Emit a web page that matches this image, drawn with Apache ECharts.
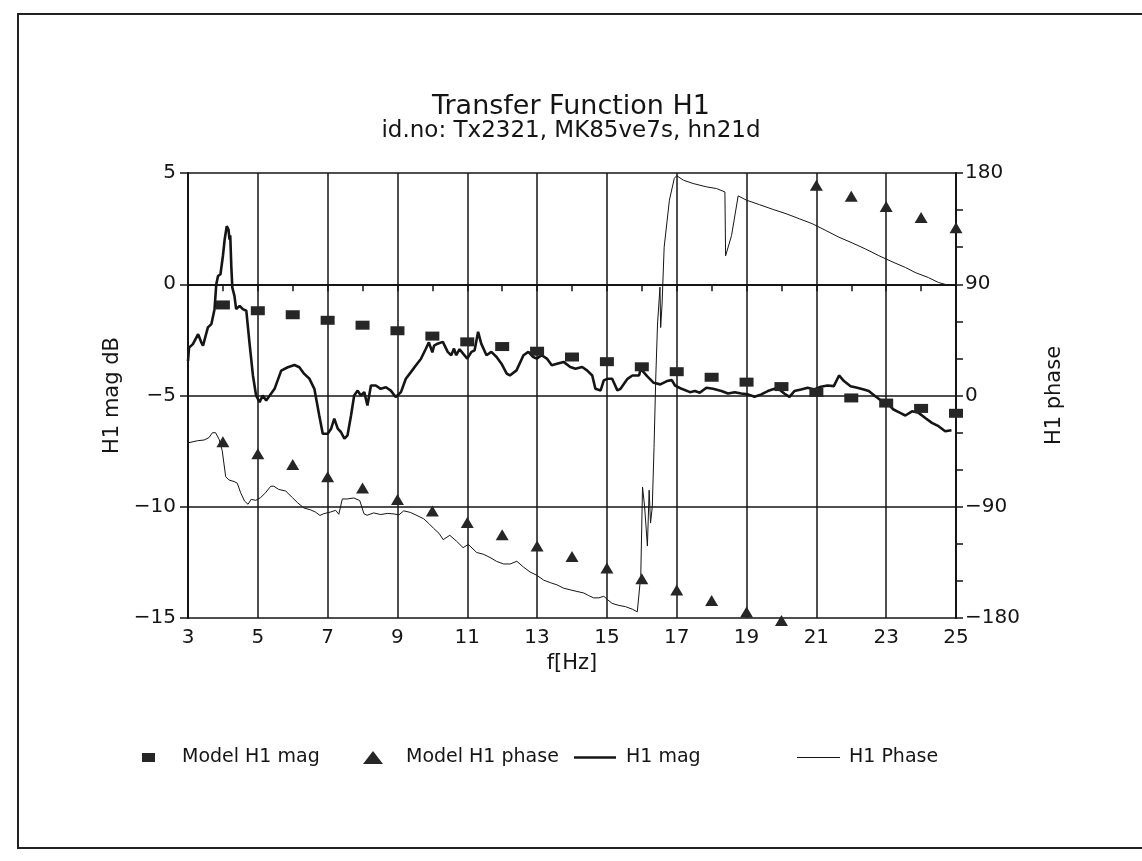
<!DOCTYPE html>
<html>
<head>
<meta charset="utf-8">
<title>Transfer Function H1</title>
<script src="https://cdn.jsdelivr.net/npm/echarts@6/dist/echarts.min.js"></script>
<style>
  html, body { margin: 0; padding: 0; background: #fff; }
  #chart { width: 1142px; height: 861px; }
</style>
</head>
<body>
<div id="chart"></div>
<script>
// model points (one per Hz)
const modelFreq = [4, 5, 6, 7, 8, 9, 10, 11, 12, 13, 14, 15, 16, 17, 18, 19, 20, 21, 22, 23, 24, 25]
const modelMag = [-0.93, -1.19, -1.37, -1.62, -1.84, -2.09, -2.33, -2.59, -2.80, -3.01, -3.27,
  -3.48, -3.71, -3.93, -4.18, -4.40, -4.60, -4.86, -5.11, -5.34, -5.58, -5.80]
const modelPhase = [-37.4, -47.2, -55.9, -65.7, -74.9, -84.1, -93.4, -102.7, -112.7, -121.7, -130.3,
  -139.6, -148.3, -157.3, -165.9, -175.1, -182, 170, 161.1, 152.8, 144.1, 135.7]

// measured H1 magnitude (dB)
const magFreq = [3.00, 3.03, 3.14, 3.29, 3.38, 3.43, 3.57, 3.67, 3.76, 3.81, 3.86, 3.93, 4.00, 4.05, 4.11,
  4.16, 4.19, 4.21, 4.24, 4.27, 4.33, 4.38, 4.48, 4.57, 4.67, 4.76, 4.86, 4.95, 5.05, 5.14, 5.24, 5.29,
  5.48, 5.67, 5.86, 6.05, 6.19, 6.33, 6.48, 6.62, 6.76, 6.86, 7.00, 7.10, 7.19, 7.29, 7.38, 7.48, 7.57,
  7.67, 7.76, 7.86, 7.95, 8.05, 8.14, 8.24, 8.38, 8.52, 8.67, 8.81, 8.95, 9.10, 9.24, 9.38, 9.52, 9.67,
  9.81, 9.90, 10.00, 10.05, 10.15, 10.30, 10.44, 10.54, 10.62, 10.68, 10.78, 10.88, 11.00, 11.12, 11.21,
  11.31, 11.40, 11.55, 11.69, 11.84, 11.98, 12.13, 12.22, 12.41, 12.61, 12.75, 12.89, 12.99, 13.13,
  13.28, 13.42, 13.57, 13.76, 13.95, 14.10, 14.29, 14.43, 14.58, 14.67, 14.82, 14.91, 15.01, 15.15,
  15.30, 15.39, 15.59, 15.73, 15.92, 15.97, 16.15, 16.34, 16.53, 16.72, 16.86, 16.95, 17.14, 17.38,
  17.52, 17.66, 17.85, 18.04, 18.28, 18.47, 18.66, 18.85, 19.04, 19.23, 19.42, 19.61, 19.80, 19.94,
  20.08, 20.23, 20.37, 20.56, 20.75, 20.94, 21.13, 21.32, 21.50, 21.65, 21.79, 21.98, 22.17, 22.36,
  22.50, 22.69, 22.88, 23.07, 23.21, 23.40, 23.55, 23.74, 23.93, 24.12, 24.31, 24.50, 24.69, 24.87]
const magDb = [-3.45, -2.85, -2.69, -2.24, -2.61, -2.76, -1.94, -1.79, -1.12, 0.00, 0.37, 0.45, 1.27, 2.01, 2.61,
  2.46, 2.01, 2.20, 0.82, -0.15, -0.52, -1.12, -0.97, -1.12, -1.19, -2.61, -4.10, -5.00, -5.30, -5.00, -5.22, -5.15,
  -4.70, -3.88, -3.73, -3.63, -3.73, -4.03, -4.25, -4.70, -5.90, -6.72, -6.72, -6.49, -6.04, -6.49, -6.64, -6.94, -6.79,
  -5.90, -5.00, -4.78, -5.00, -4.85, -5.45, -4.55, -4.55, -4.70, -4.63, -4.78, -5.07, -4.85, -4.25, -3.96, -3.66, -3.36,
  -2.91, -2.61, -3.06, -2.76, -2.67, -2.59, -3.04, -3.19, -2.89, -3.19, -2.92, -3.12, -3.34, -3.04, -2.97,
  -2.14, -2.67, -3.19, -3.04, -3.27, -3.57, -4.02, -4.10, -3.87, -3.19, -3.04, -3.27, -3.34, -3.19,
  -3.34, -3.64, -3.57, -3.49, -3.72, -3.80, -3.72, -3.87, -4.10, -4.70, -4.77, -4.32, -4.25, -4.25,
  -4.77, -4.70, -4.25, -4.10, -4.10, -3.80, -4.13, -4.43, -4.50, -4.35, -4.31, -4.55, -4.70, -4.85,
  -4.80, -4.88, -4.65, -4.70, -4.80, -4.91, -4.85, -4.91, -4.95, -5.06, -4.95, -4.80, -4.70, -4.73,
  -4.91, -5.06, -4.80, -4.73, -4.65, -4.73, -4.61, -4.55, -4.58, -4.10, -4.35, -4.58, -4.65, -4.73,
  -4.80, -5.03, -5.26, -5.41, -5.63, -5.78, -5.90, -5.71, -5.78, -6.01, -6.23, -6.38, -6.61, -6.56]

// measured H1 phase (deg)
const phaseFreq = [3.00, 3.27, 3.46, 3.60, 3.70, 3.79, 3.89, 3.98, 4.08, 4.17, 4.32, 4.41, 4.51, 4.62, 4.72,
  4.81, 4.94, 5.08, 5.22, 5.37, 5.46, 5.60, 5.80, 5.99, 6.13, 6.32, 6.51, 6.65, 6.78, 6.89, 7.08, 7.23,
  7.32, 7.42, 7.56, 7.75, 7.92, 8.04, 8.13, 8.32, 8.52, 8.71, 8.90, 9.04, 9.18, 9.37, 9.56, 9.75, 9.90,
  10.04, 10.19, 10.31, 10.50, 10.69, 10.88, 11.03, 11.27, 11.46, 11.65, 11.84, 12.04, 12.23, 12.42,
  12.61, 12.80, 12.99, 13.19, 13.38, 13.57, 13.76, 13.95, 14.14, 14.34, 14.48, 14.62, 14.77, 14.91,
  15.01, 15.15, 15.34, 15.53, 15.73, 15.87, 15.97, 16.02, 16.08, 16.16, 16.21, 16.25, 16.30, 16.35,
  16.40, 16.45, 16.52, 16.54, 16.58, 16.64, 16.79, 16.93, 17.00, 17.19, 17.47, 17.85, 18.14, 18.38,
  18.40, 18.57, 18.76, 19.00, 19.37, 19.75, 20.13, 20.51, 20.89, 21.27, 21.65, 22.03, 22.41, 22.79,
  23.17, 23.55, 23.83, 24.21, 24.50, 24.78, 24.92]
const phaseDeg = [-38.3, -36.6, -36.0, -34.1, -30.1, -30.1, -35.3, -44.6, -65.7, -68.3, -69.6, -70.9, -78.8, -85.4, -88.0,
  -84.0, -84.8, -82.6, -78.7, -73.4, -73.4, -76.0, -77.3, -82.6, -86.5, -91.0, -92.5, -94.3, -97.0, -95.6, -94.3, -92.9,
  -96.1, -83.7, -83.7, -82.9, -85.0, -95.6, -96.9, -95.0, -96.3, -95.4, -95.8, -96.6, -93.3, -94.6, -97.1, -99.7, -103.6,
  -107.6, -111.5, -116.6, -113.1, -117.8, -123.1, -120.5, -127.0, -128.4, -131.0, -134.2, -136.3, -136.3, -134.1,
  -138.8, -142.8, -145.4, -149.4, -151.4, -153.2, -155.9, -157.2, -158.5, -159.8, -161.9, -163.7, -163.7, -162.4,
  -165.0, -168.2, -169.8, -170.8, -172.9, -175.0, -145.7, -74.0, -90.0, -121.8, -76.6, -103.2, -90.0, -42.0,
  15.0, 57.8, 87.6, 55.0, 74.0, 120.0, 158.0, 175.7, 177.8, 174.2, 171.5, 168.8, 167.4, 164.7,
  113.0, 129.4, 161.5, 158.0, 154.4, 150.6, 147.1, 143.0, 138.9, 133.5, 128.0, 123.4, 118.5, 113.1,
  108.2, 103.6, 99.5, 95.4, 91.4, 89.2, 89.2]

// vertical grid lines at odd frequencies
const gridFreq = [5, 7, 9, 11, 13, 15, 17, 19, 21, 23]

const FONT = 'DejaVu Sans'
const INK = '#151515'

const pairs = (xs, ys) => xs.map((x, i) => [x, ys[i]])
const minus = v => String(v).replace('-', '\u2212')

const chart = echarts.init(document.getElementById('chart'), null, { renderer: 'canvas' })

// one legend box per item so each can sit where the original puts it
function legendItem(name, left, icon, w, h, gap) {
  return {
    data: [name],
    left: left,
    top: 748,
    padding: 0,
    icon: icon,
    itemWidth: w,
    itemHeight: h,
    selectedMode: false,
    itemStyle: { opacity: 1 },
    textStyle: { fontFamily: FONT, fontSize: 19, color: INK, padding: [0, 0, 0, gap] }
  }
}

chart.setOption({
  animation: false,
  backgroundColor: '#fff',
  textStyle: { fontFamily: FONT, color: INK },
  title: {
    text: 'Transfer Function H1',
    subtext: 'id.no: Tx2321, MK85ve7s, hn21d',
    left: 'center',
    top: 88,
    itemGap: 0,
    textStyle: { fontFamily: FONT, fontSize: 27, fontWeight: 'normal', color: INK },
    subtextStyle: { fontFamily: FONT, fontSize: 23, color: INK }
  },
  graphic: [{
    type: 'rect',
    shape: { x: 18, y: 14, width: 1160, height: 834 },
    style: { fill: 'none', stroke: '#222', lineWidth: 2 },
    silent: true
  }],
  legend: [
    legendItem('Model H1 mag', 142, 'rect', 13, 9, 22),
    legendItem('Model H1 phase', 363, 'triangle', 20, 13, 18),
    legendItem('H1 mag', 574, 'rect', 42, 2.6, 5),
    legendItem('H1 Phase', 797, 'rect', 43, 1.2, 4)
  ],
  grid: { left: 188, right: 186, top: 173, bottom: 243 },
  xAxis: {
    type: 'value',
    min: 3,
    max: 25,
    interval: 1,
    name: 'f[Hz]',
    nameLocation: 'middle',
    nameGap: 34,
    nameTextStyle: { fontFamily: FONT, fontSize: 21, color: INK },
    axisLine: { lineStyle: { color: INK, width: 2 } },
    axisTick: { length: 7, inside: false, lineStyle: { color: INK, width: 1.5 } },
    axisLabel: {
      margin: 10,
      fontFamily: FONT,
      fontSize: 20,
      color: INK,
      formatter: v => (v % 2 === 1 ? String(v) : '')
    },
    splitLine: { show: false }
  },
  yAxis: [
    {
      type: 'value',
      min: -15,
      max: 5,
      interval: 5,
      name: 'H1 mag dB',
      nameLocation: 'middle',
      nameRotate: 90,
      nameGap: 62,
      nameTextStyle: { fontFamily: FONT, fontSize: 21, color: INK },
      axisLine: { show: true, lineStyle: { color: INK, width: 2 } },
      axisTick: { show: true, length: 8, lineStyle: { color: INK, width: 1.5 } },
      axisLabel: { margin: 12, fontFamily: FONT, fontSize: 20, color: INK, formatter: minus },
      splitLine: { show: true, lineStyle: { color: INK, width: 1.5 } }
    },
    {
      type: 'value',
      position: 'right',
      min: -180,
      max: 180,
      interval: 30,
      name: 'H1 phase',
      nameLocation: 'middle',
      nameRotate: 90,
      nameGap: 88,
      nameTextStyle: { fontFamily: FONT, fontSize: 21, color: INK },
      axisLine: { show: true, lineStyle: { color: INK, width: 2 } },
      axisTick: { show: true, length: 7, lineStyle: { color: INK, width: 1.5 } },
      axisLabel: {
        margin: 9,
        fontFamily: FONT,
        fontSize: 20,
        color: INK,
        formatter: v => (v % 90 === 0 ? minus(v) : '')
      },
      splitLine: { show: false }
    }
  ],
  series: [
    {
      name: 'H1 Phase',
      type: 'line',
      yAxisIndex: 1,
      data: pairs(phaseFreq, phaseDeg),
      symbol: 'none',
      lineStyle: { color: INK, width: 1 },
      itemStyle: { color: INK },
      z: 3,
      markLine: {
        silent: true,
        symbol: 'none',
        label: { show: false },
        lineStyle: { color: INK, width: 1.5, type: 'solid' },
        data: gridFreq.map(f => ({ xAxis: f }))
      }
    },
    {
      name: 'H1 mag',
      type: 'line',
      yAxisIndex: 0,
      data: pairs(magFreq, magDb),
      symbol: 'none',
      lineStyle: { color: INK, width: 2.6 },
      itemStyle: { color: INK },
      z: 4
    },
    {
      name: 'Model H1 mag',
      type: 'scatter',
      yAxisIndex: 0,
      data: pairs(modelFreq, modelMag),
      symbol: 'rect',
      symbolSize: [14, 9],
      itemStyle: { color: '#262626', opacity: 1 },
      z: 5
    },
    {
      name: 'Model H1 phase',
      type: 'scatter',
      yAxisIndex: 1,
      data: pairs(modelFreq, modelPhase),
      symbol: 'triangle',
      symbolSize: [13, 11],
      clip: false,
      itemStyle: { color: '#262626', opacity: 1 },
      z: 5
    }
  ]
})
</script>
</body>
</html>
